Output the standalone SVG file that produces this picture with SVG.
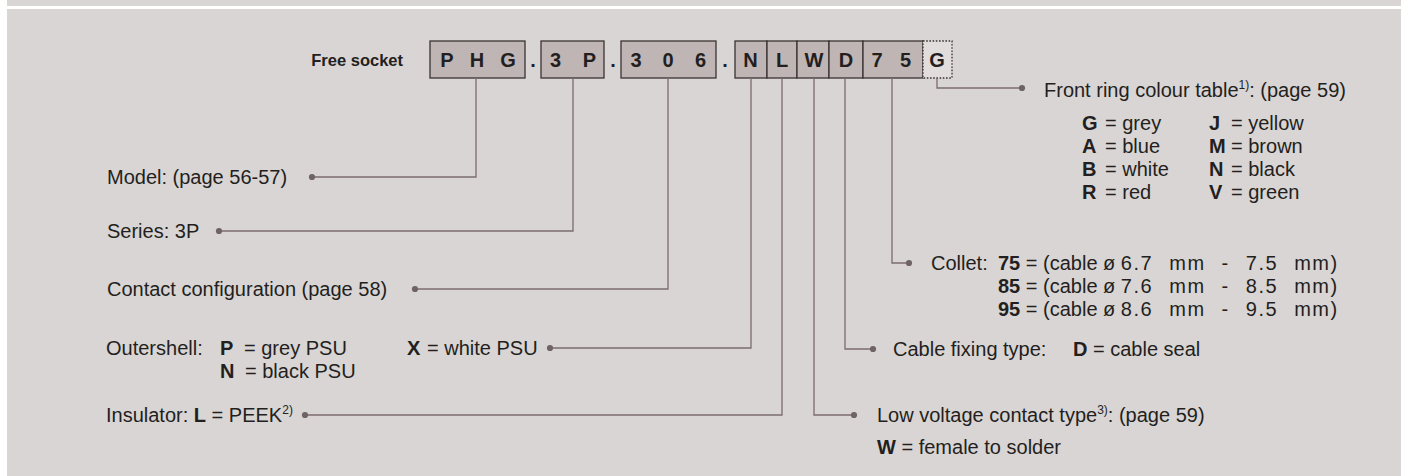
<svg xmlns="http://www.w3.org/2000/svg" width="1403" height="476" viewBox="0 0 1403 476">
<defs>
<style>
.t{font-family:"Liberation Sans",Arial,sans-serif;font-size:20px;fill:#231f20}
.b{font-weight:bold}
.sup{font-size:12px}
.ws{word-spacing:9px;letter-spacing:1.5px}
.box{fill:#bfb5b4;stroke:#3a3333;stroke-width:1.3}
.boxg{fill:#e1dddc;stroke:#3a3333;stroke-width:1.3;stroke-dasharray:1.6 1.6}
.ch{font-family:"Liberation Sans",Arial,sans-serif;font-size:20px;font-weight:bold;fill:#231f20;text-anchor:middle}
.con{fill:none;stroke:#7b6c6c;stroke-width:1.3;marker-end:url(#dot)}
</style>
<marker id="dot" markerUnits="userSpaceOnUse" markerWidth="8" markerHeight="8" refX="4" refY="4" orient="auto">
<circle cx="4" cy="4" r="3.1" fill="#6f6363"/>
</marker>
</defs>
<rect x="0" y="0" width="1403" height="476" fill="#ffffff"/>
<rect x="7" y="0" width="1394" height="6" fill="#d9d5d4"/>
<rect x="7" y="9" width="1394" height="467" fill="#d9d5d4"/>

<g id="code">
<text class="t b" x="403" y="66" text-anchor="end" style="font-size:16.5px">Free socket</text>
<rect class="box" x="430" y="41" width="95" height="37"/>
<text class="ch" x="447" y="66.5">P</text><text class="ch" x="477" y="66.5">H</text><text class="ch" x="508" y="66.5">G</text>
<text class="ch" x="533" y="66.5">.</text>
<rect class="box" x="541" y="41" width="63" height="37"/>
<text class="ch" x="555.5" y="66.5">3</text><text class="ch" x="589.5" y="66.5">P</text>
<text class="ch" x="613" y="66.5">.</text>
<rect class="box" x="621" y="41" width="95" height="37"/>
<text class="ch" x="636" y="66.5">3</text><text class="ch" x="668" y="66.5">0</text><text class="ch" x="700.5" y="66.5">6</text>
<text class="ch" x="725" y="66.5">.</text>
<rect class="box" x="735" y="41" width="32" height="37"/>
<text class="ch" x="750.5" y="66.5">N</text>
<rect class="box" x="767" y="41" width="30" height="37"/>
<text class="ch" x="782" y="66.5">L</text>
<rect class="box" x="797" y="41" width="32" height="37"/>
<text class="ch" x="814" y="66.5">W</text>
<rect class="box" x="829" y="41" width="34" height="37"/>
<text class="ch" x="846" y="66.5">D</text>
<rect class="box" x="863" y="41" width="60" height="37"/>
<text class="ch" x="877" y="66.5">7</text><text class="ch" x="905.5" y="66.5">5</text>
<rect class="boxg" x="923" y="41" width="29" height="37"/>
<text class="ch" x="937" y="66.5">G</text>
</g>

<g id="connectors">
<path class="con" d="M476 78 V177 H312"/>
<path class="con" d="M573 78 V231 H219"/>
<path class="con" d="M668 78 V289 H415"/>
<path class="con" d="M751 78 V348 H550"/>
<path class="con" d="M782 78 V415 H305"/>
<path class="con" d="M814 78 V415 H854"/>
<path class="con" d="M845 78 V349 H873"/>
<path class="con" d="M892 78 V263 H909"/>
<path class="con" d="M937 78 V88 H1022"/>
</g>

<g id="model"><text class="t" x="107" y="184">Model: (page 56-57)</text></g>
<g id="series"><text class="t" x="107" y="238">Series: 3P</text></g>
<g id="contact"><text class="t" x="107" y="296">Contact configuration (page 58)</text></g>
<g id="outershell">
<text class="t" x="106" y="355">Outershell:</text>
<text class="t b" x="220" y="355">P</text><text class="t" x="244" y="355">= grey PSU</text>
<text class="t b" x="407" y="355">X</text><text class="t" x="427" y="355">= white PSU</text>
<text class="t b" x="220" y="378">N</text><text class="t" x="245" y="378">= black PSU</text>
</g>
<g id="insulator"><text class="t" x="106" y="422">Insulator: <tspan class="b">L</tspan> = PEEK<tspan class="sup" dy="-8">2)</tspan></text></g>

<g id="front-ring">
<text class="t" x="1044" y="97">Front ring colour table<tspan class="sup" dy="-8">1)</tspan><tspan dy="8">: (page 59)</tspan></text>
<text class="t b" x="1082" y="130">G</text><text class="t" x="1105" y="130">= grey</text>
<text class="t b" x="1082" y="153">A</text><text class="t" x="1105" y="153">= blue</text>
<text class="t b" x="1082" y="176">B</text><text class="t" x="1105" y="176">= white</text>
<text class="t b" x="1082" y="199">R</text><text class="t" x="1105" y="199">= red</text>
<text class="t b" x="1209" y="130">J</text><text class="t" x="1231" y="130">= yellow</text>
<text class="t b" x="1209" y="153">M</text><text class="t" x="1231" y="153">= brown</text>
<text class="t b" x="1209" y="176">N</text><text class="t" x="1231" y="176">= black</text>
<text class="t b" x="1209" y="199">V</text><text class="t" x="1231" y="199">= green</text>
</g>

<g id="collet">
<text class="t" x="931" y="270">Collet:</text>
<text class="t" x="998" y="270"><tspan class="b">75</tspan> = (cable ø <tspan class="ws">6.7 mm - 7.5 mm)</tspan></text>
<text class="t" x="998" y="293"><tspan class="b">85</tspan> = (cable ø <tspan class="ws">7.6 mm - 8.5 mm)</tspan></text>
<text class="t" x="998" y="316"><tspan class="b">95</tspan> = (cable ø <tspan class="ws">8.6 mm - 9.5 mm)</tspan></text>
</g>
<g id="cable-fixing">
<text class="t" x="893" y="356">Cable fixing type:</text>
<text class="t" x="1073" y="356"><tspan class="b">D</tspan> = cable seal</text>
</g>
<g id="low-voltage">
<text class="t" x="877" y="422">Low voltage contact type<tspan class="sup" dy="-8">3)</tspan><tspan dy="8">: (page 59)</tspan></text>
<text class="t" x="877" y="454"><tspan class="b">W</tspan> = female to solder</text>
</g>
</svg>
